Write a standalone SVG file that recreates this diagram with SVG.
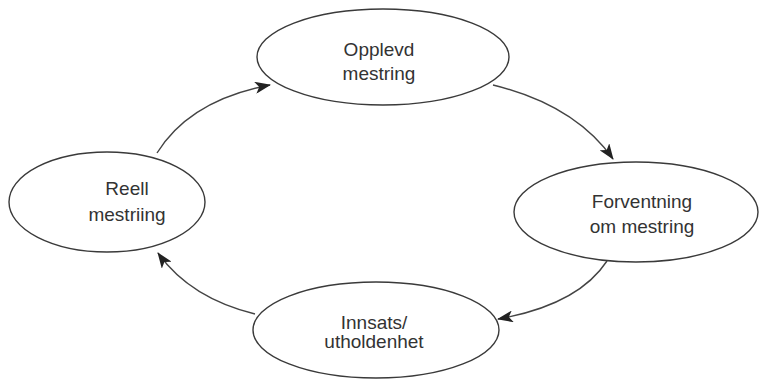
<svg xmlns="http://www.w3.org/2000/svg" width="760" height="380" viewBox="0 0 760 380">
<defs>
<style>
.node ellipse{fill:#fff;stroke:#3a3a3a;stroke-width:1.4}
.node text{font-family:"Liberation Sans",Arial,sans-serif;font-size:19px;fill:#333;text-anchor:middle}
.edge{fill:none;stroke:#444;stroke-width:1.4}
</style>
<marker id="arr" viewBox="0 0 16 12" refX="15" refY="6" markerWidth="16" markerHeight="12" markerUnits="userSpaceOnUse" orient="auto">
<path d="M0,0 L16,6 L0,12 L4,6 z" fill="#222"/>
</marker>
</defs>
<rect width="760" height="380" fill="#fff"/>
<g id="connectors">
<path class="edge" d="M157,153 Q190,100 270,85" marker-end="url(#arr)"/>
<path class="edge" d="M493,85 Q575,105 613,159" marker-end="url(#arr)"/>
<path class="edge" d="M607,261 Q578,305 498,319" marker-end="url(#arr)"/>
<path class="edge" d="M255,314 Q190,298 158,253" marker-end="url(#arr)"/>
</g>
<g id="node-opplevd" class="node">
<ellipse cx="383" cy="57" rx="126" ry="48"/>
<text x="379" y="56">Opplevd</text>
<text x="379" y="80">mestring</text>
</g>
<g id="node-forventning" class="node">
<ellipse cx="636" cy="212" rx="122" ry="50"/>
<text x="642" y="208">Forventning</text>
<text x="642" y="233">om mestring</text>
</g>
<g id="node-reell" class="node">
<ellipse cx="107" cy="202" rx="98" ry="50"/>
<text x="127" y="195">Reell</text>
<text x="127" y="221">mestriing</text>
</g>
<g id="node-innsats" class="node">
<ellipse cx="376" cy="330" rx="123" ry="48"/>
<text x="374" y="329">Innsats/</text>
<text x="374" y="348">utholdenhet</text>
</g>
</svg>
